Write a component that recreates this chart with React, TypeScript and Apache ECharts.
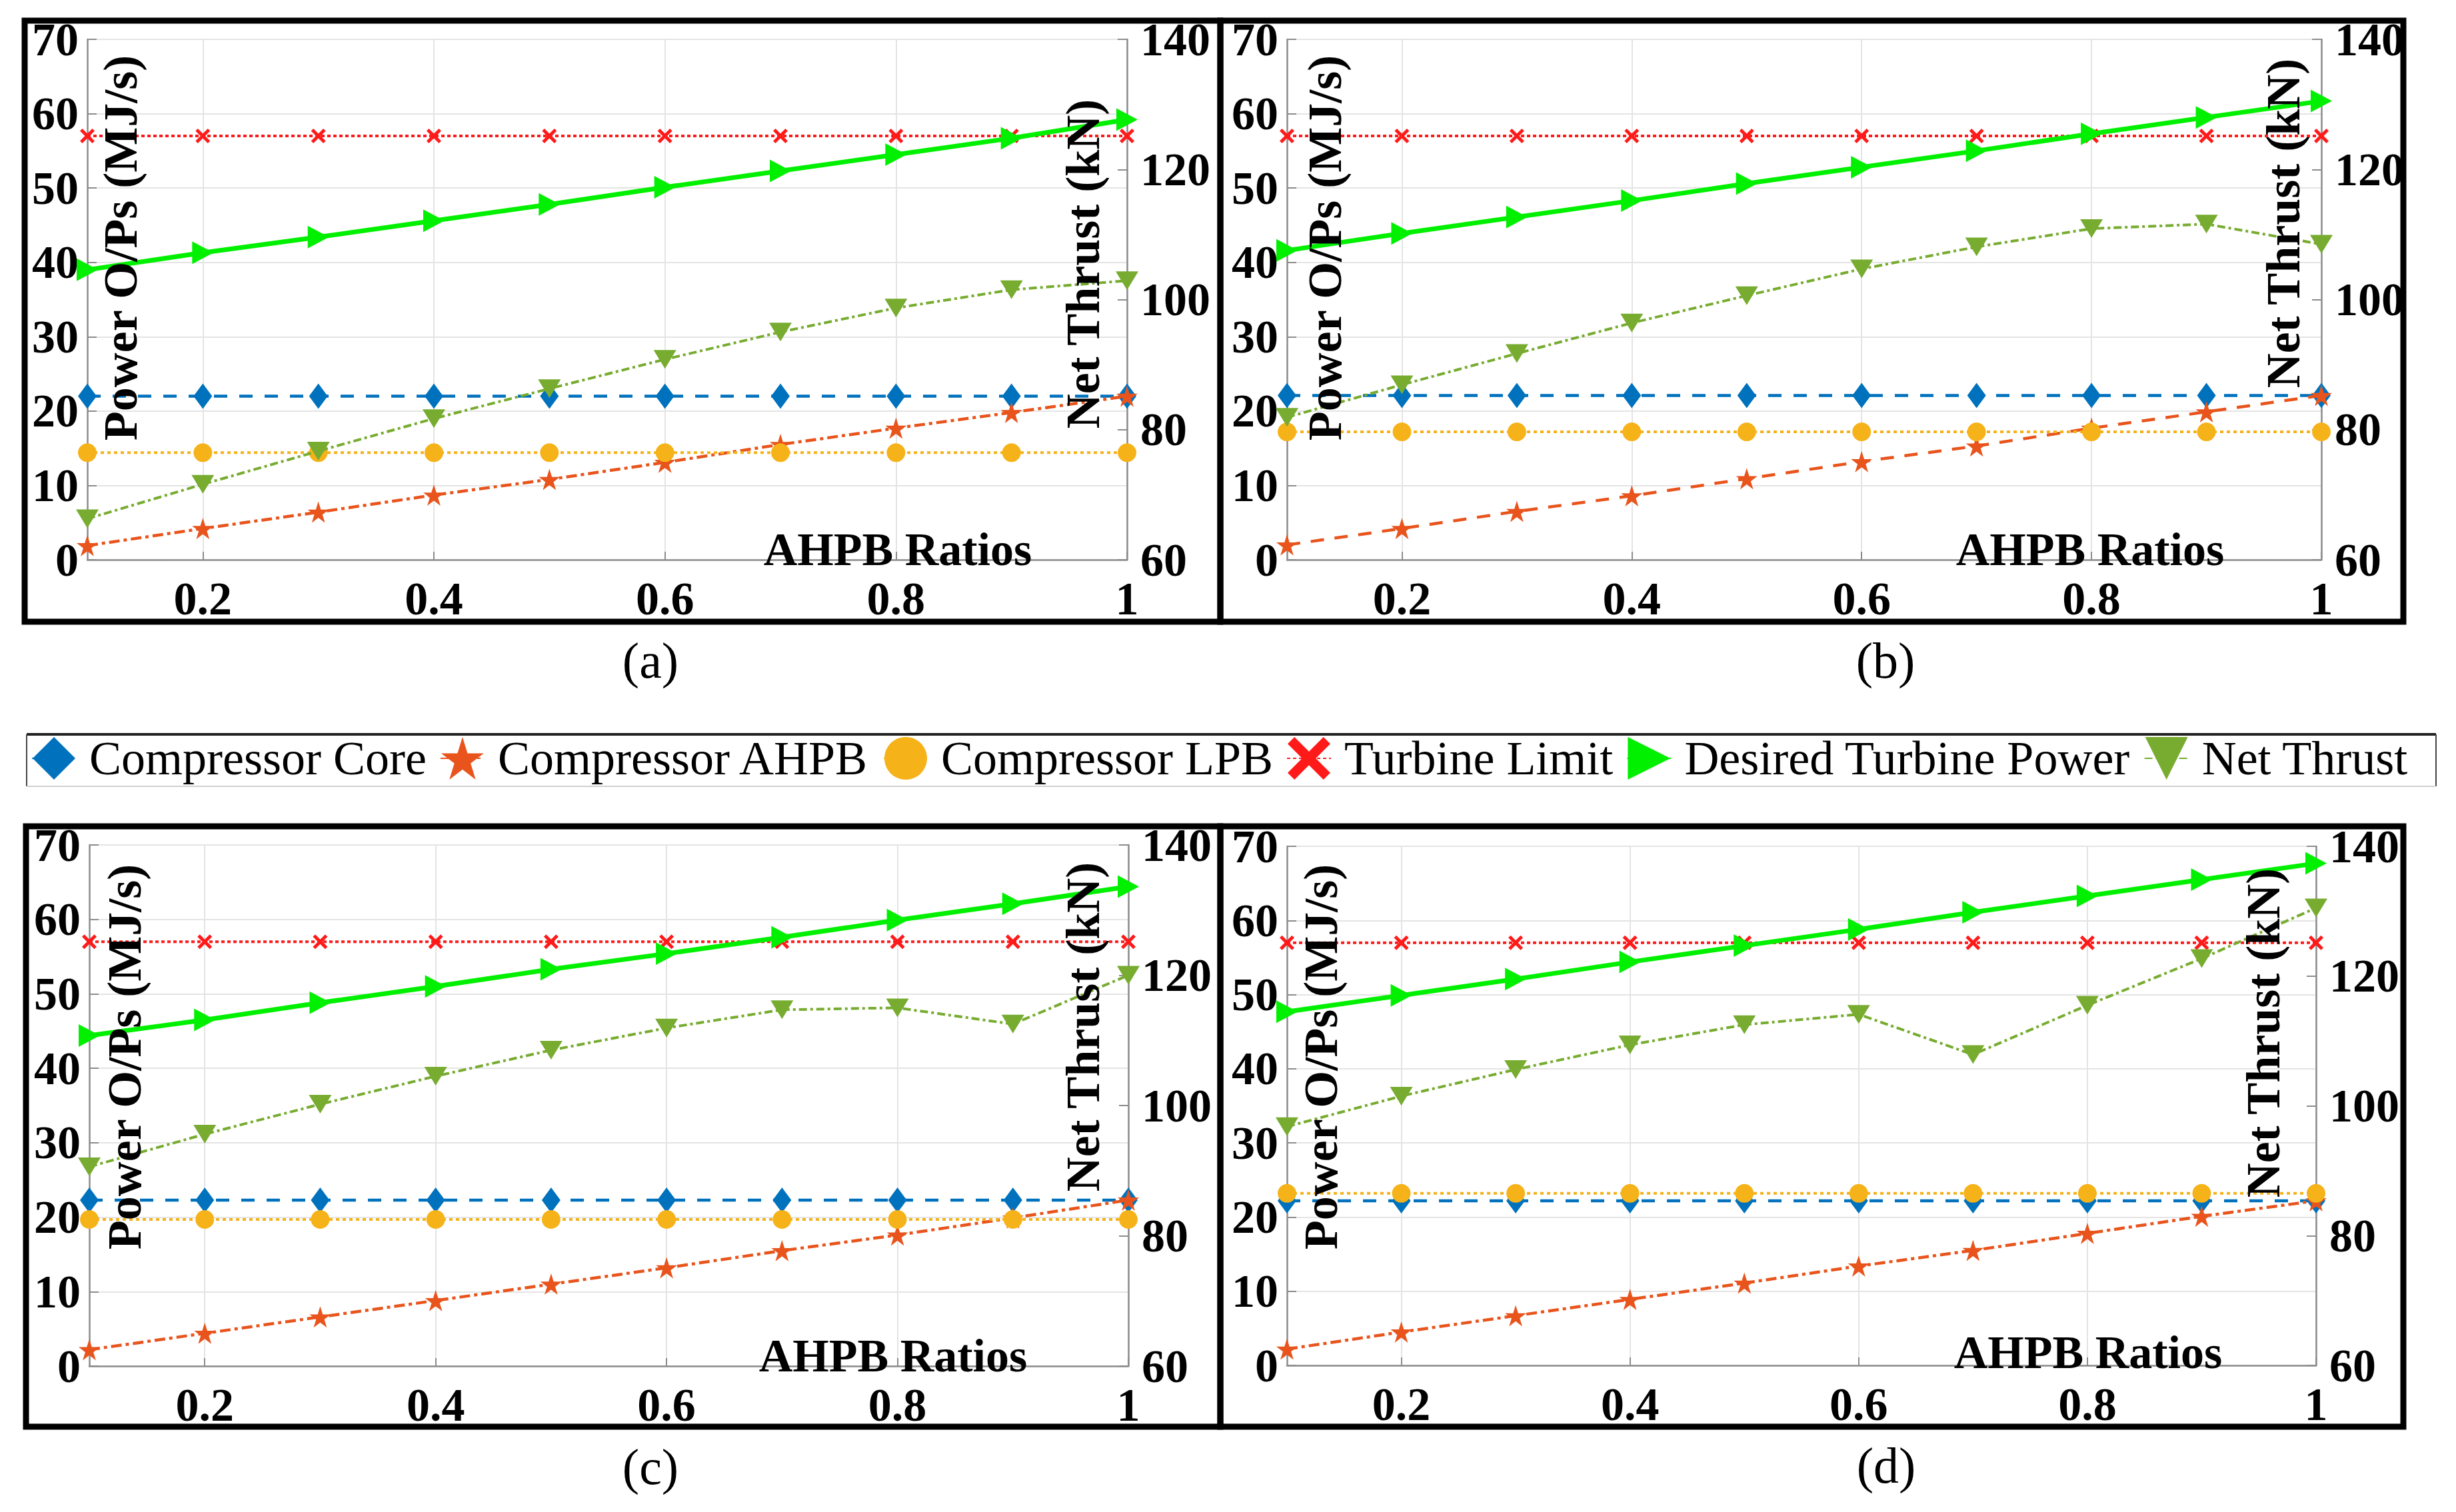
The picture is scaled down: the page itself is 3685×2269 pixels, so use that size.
import React, { useEffect, useRef } from "react";
import * as echarts from "echarts";

// ---------- data ----------
const ratios = [0.1, 0.2, 0.3, 0.4, 0.5, 0.6, 0.7, 0.8, 0.9, 1.0];
const xTickValues = [0.2, 0.4, 0.6, 0.8, 1];
const seriesNames = [
  "Compressor Core",
  "Compressor AHPB",
  "Compressor LPB",
  "Turbine Limit",
  "Desired Turbine Power",
  "Net Thrust",
];
const panelLabels = ["(a)", "(b)", "(c)", "(d)"];
const leftAxisName = "Power O/Ps (MJ/s)";
const rightAxisName = "Net Thrust (kN)";
const xAxisName = "AHPB Ratios";

// panel (a)
const coreA = [22, 22, 22, 22, 22, 22, 22, 22, 22, 22];
const ahpbA = [1.9, 4.2, 6.4, 8.7, 10.8, 13.1, 15.5, 17.7, 19.8, 22.0];
const lpbA = [14.4, 14.4, 14.4, 14.4, 14.4, 14.4, 14.4, 14.4, 14.4, 14.4];
const turbA = [57, 57, 57, 57, 57, 57, 57, 57, 57, 57];
const desA = [39.0, 41.3, 43.4, 45.6, 47.8, 50.1, 52.3, 54.5, 56.7, 59.2];
const thrA = [66.3, 71.6, 76.7, 81.7, 86.3, 90.8, 95.0, 98.7, 101.5, 102.9];

// panel (b)
const coreB = [22.1, 22.1, 22.1, 22.1, 22.1, 22.1, 22.1, 22.1, 22.1, 22.1];
const ahpbB = [2.0, 4.2, 6.5, 8.6, 10.9, 13.2, 15.3, 17.7, 19.9, 22.1];
const lpbB = [17.2, 17.2, 17.2, 17.2, 17.2, 17.2, 17.2, 17.2, 17.2, 17.2];
const turbB = [57, 57, 57, 57, 57, 57, 57, 57, 57, 57];
const desB = [41.6, 43.9, 46.1, 48.3, 50.6, 52.8, 55.0, 57.3, 59.5, 61.7];
const thrB = [81.9, 86.9, 91.7, 96.4, 100.6, 104.7, 108.1, 110.9, 111.6, 108.5];

// panel (c)
const coreC = [22.3, 22.3, 22.3, 22.3, 22.3, 22.3, 22.3, 22.3, 22.3, 22.3];
const ahpbC = [2.2, 4.4, 6.6, 8.8, 11.0, 13.2, 15.5, 17.6, 19.9, 22.3];
const lpbC = [19.7, 19.7, 19.7, 19.7, 19.7, 19.7, 19.7, 19.7, 19.7, 19.7];
const turbC = [57, 57, 57, 57, 57, 57, 57, 57, 57, 57];
const desC = [44.4, 46.5, 48.8, 51.0, 53.3, 55.4, 57.6, 59.9, 62.1, 64.4];
const thrC = [90.6, 95.6, 100.2, 104.5, 108.5, 111.9, 114.7, 115.0, 112.5, 120.0];

// panel (d)
const coreD = [22.2, 22.2, 22.2, 22.2, 22.2, 22.2, 22.2, 22.2, 22.2, 22.2];
const ahpbD = [2.2, 4.5, 6.7, 8.9, 11.1, 13.4, 15.5, 17.8, 20.1, 22.2];
const lpbD = [23.2, 23.2, 23.2, 23.2, 23.2, 23.2, 23.2, 23.2, 23.2, 23.2];
const turbD = [57, 57, 57, 57, 57, 57, 57, 57, 57, 57];
const desD = [47.7, 49.9, 52.1, 54.4, 56.6, 58.8, 61.1, 63.3, 65.5, 67.7];
const thrD = [96.8, 101.5, 105.6, 109.4, 112.5, 114.1, 107.9, 115.5, 122.7, 130.5];

const panelData = [
  [coreA, ahpbA, lpbA, turbA, desA, thrA],
  [coreB, ahpbB, lpbB, turbB, desB, thrB],
  [coreC, ahpbC, lpbC, turbC, desC, thrC],
  [coreD, ahpbD, lpbD, turbD, desD, thrD],
];

// ---------- layout / style ----------
const SERIF = "Liberation Serif, DejaVu Serif, serif";
const W = 3685;
const H = 2269;

const grids = [
  { left: 131, top: 59, width: 1560, height: 781 },
  { left: 1931, top: 59, width: 1552, height: 781 },
  { left: 134, top: 1268, width: 1559, height: 782 },
  { left: 1931, top: 1270, width: 1544, height: 779 },
];
const boxes = [
  { x: 37, y: 31, w: 1794, h: 902 },
  { x: 1831, y: 31, w: 1775, h: 902 },
  { x: 39, y: 1240, w: 1792, h: 901 },
  { x: 1831, y: 1240, w: 1775, h: 901 },
];
const leftNamePos = [
  [181, 372],
  [1988, 372],
  [187, 1586],
  [1982, 1586],
];
const rightNamePos = [
  [1625, 396],
  [3426, 335],
  [1625, 1541],
  [3396, 1550],
];
const xNamePos = [
  [1347, 824],
  [3136, 824],
  [1340, 2034],
  [3133, 2029],
];
const captionPos = [
  [976, 991],
  [2829, 991],
  [976, 2201],
  [2830, 2199],
];

const STAR =
  "path://M50,0 L61.2,34.5 L97.6,34.5 L68.2,55.9 L79.4,90.5 L50,69.1 L20.6,90.5 L31.8,55.9 L2.4,34.5 L38.8,34.5 Z";
const XMARK =
  "path://M0,16 L16,0 L50,34 L84,0 L100,16 L66,50 L100,84 L84,100 L50,66 L16,100 L0,84 L34,50 Z";
const TRI_RIGHT = "path://M0,0 L100,50 L0,100 Z";
const TRI_DOWN = "path://M0,0 L100,0 L50,100 Z";

const styles = [
  { color: "#0072BD", width: 4.5, type: [20, 18], symbol: "diamond", size: [28, 38] },
  { color: "#E8541C", width: 4.5, type: [16, 6, 5, 6], symbol: STAR, size: [32, 32] },
  { color: "#F6B219", width: 4, type: [5, 5], symbol: "circle", size: 28 },
  { color: "#FF1A1A", width: 4, type: [5, 4], symbol: XMARK, size: [22, 22] },
  { color: "#00F000", width: 7, type: "solid", symbol: TRI_RIGHT, size: [32, 34] },
  { color: "#77AC30", width: 4, type: [12, 5, 4, 5], symbol: TRI_DOWN, size: [34, 28] },
];

const AXIS_GREY = "#8c8c8c";
const GRID_GREY = "#e4e4e4";

function buildOption() {
  const grid: any[] = [];
  const xAxis: any[] = [];
  const yAxis: any[] = [];
  const series: any[] = [];
  const graphic: any[] = [];

  const labelStyle = {
    fontFamily: SERIF,
    fontWeight: "bold",
    fontSize: 70,
    color: "#000",
  };

  grids.forEach((g, i) => {
    grid.push({ ...g, containLabel: false, outerBoundsMode: "none" });
    xAxis.push({
      type: "value",
      gridIndex: i,
      min: 0.1,
      max: 1,
      axisLine: { show: true, onZero: false, lineStyle: { color: AXIS_GREY, width: 2.5 } },
      axisTick: {
        show: true,
        inside: true,
        length: 12,
        customValues: xTickValues,
        lineStyle: { color: AXIS_GREY, width: 2 },
      },
      axisLabel: { ...labelStyle, customValues: xTickValues, margin: 23 },
      splitLine: { show: true, lineStyle: { color: GRID_GREY, width: 2 } },
    });
    yAxis.push({
      type: "value",
      gridIndex: i,
      position: "left",
      min: 0,
      max: 70,
      interval: 10,
      axisLine: { show: true, lineStyle: { color: AXIS_GREY, width: 2.5 } },
      axisTick: { show: true, inside: true, length: 14, lineStyle: { color: AXIS_GREY, width: 2 } },
      axisLabel: { ...labelStyle, margin: 13 },
      splitLine: { show: true, lineStyle: { color: GRID_GREY, width: 2 } },
    });
    yAxis.push({
      type: "value",
      gridIndex: i,
      position: "right",
      min: 60,
      max: 140,
      interval: 20,
      axisLine: { show: true, lineStyle: { color: AXIS_GREY, width: 2.5 } },
      axisTick: { show: true, inside: true, length: 14, lineStyle: { color: AXIS_GREY, width: 2 } },
      axisLabel: { ...labelStyle, margin: 20 },
      splitLine: { show: false },
    });

    panelData[i].forEach((vals, k) => {
      const st = styles[k];
      const lineType = i === 1 && k === 1 ? [20, 16] : st.type;
      series.push({
        type: "line",
        name: seriesNames[k],
        xAxisIndex: i,
        yAxisIndex: k === 5 ? 2 * i + 1 : 2 * i,
        data: ratios.map((r, j) => [r, vals[j]]),
        symbol: st.symbol,
        symbolSize: st.size,
        showAllSymbol: true,
        itemStyle: { color: st.color, borderWidth: 0 },
        lineStyle: { color: st.color, width: st.width, type: lineType },
        z: 2 + k,
        silent: true,
      });
    });

    const b = boxes[i];
    graphic.push({
      type: "rect",
      shape: { x: b.x, y: b.y, width: b.w, height: b.h },
      style: { fill: "none", stroke: "#000", lineWidth: 9 },
      z: 50,
      silent: true,
    });
    const textFont = (weight: string, size: number) => `${weight} ${size}px ${SERIF}`;
    graphic.push({
      type: "text",
      x: leftNamePos[i][0],
      y: leftNamePos[i][1],
      rotation: Math.PI / 2,
      z: 100,
      style: {
        text: leftAxisName,
        font: textFont("bold", 72),
        fill: "#000",
        textAlign: "center",
        textVerticalAlign: "middle",
      },
    });
    graphic.push({
      type: "text",
      x: rightNamePos[i][0],
      y: rightNamePos[i][1],
      rotation: Math.PI / 2,
      z: 100,
      style: {
        text: rightAxisName,
        font: textFont("bold", 72),
        fill: "#000",
        textAlign: "center",
        textVerticalAlign: "middle",
      },
    });
    graphic.push({
      type: "text",
      x: xNamePos[i][0],
      y: xNamePos[i][1],
      z: 100,
      style: {
        text: xAxisName,
        font: textFont("bold", 70),
        fill: "#000",
        textAlign: "center",
        textVerticalAlign: "middle",
      },
    });
    graphic.push({
      type: "text",
      x: captionPos[i][0],
      y: captionPos[i][1],
      z: 100,
      style: {
        text: panelLabels[i],
        font: textFont("normal", 76),
        fill: "#000",
        textAlign: "center",
        textVerticalAlign: "middle",
      },
    });
  });

  // legend frame
  graphic.push({
    type: "line",
    shape: { x1: 40, y1: 1102, x2: 3655, y2: 1102 },
    style: { stroke: "#222", lineWidth: 4 },
    z: 50,
  });
  graphic.push({
    type: "line",
    shape: { x1: 40, y1: 1102, x2: 40, y2: 1180 },
    style: { stroke: "#444", lineWidth: 2 },
    z: 50,
  });
  graphic.push({
    type: "line",
    shape: { x1: 3655, y1: 1102, x2: 3655, y2: 1180 },
    style: { stroke: "#444", lineWidth: 2 },
    z: 50,
  });
  graphic.push({
    type: "line",
    shape: { x1: 40, y1: 1180, x2: 3655, y2: 1180 },
    style: { stroke: "#d0d0d0", lineWidth: 2 },
    z: 50,
  });

  return {
    animation: false,
    backgroundColor: "#ffffff",
    textStyle: { fontFamily: SERIF },
    grid,
    xAxis,
    yAxis,
    series,
    graphic,
    legend: {
      show: true,
      data: seriesNames,
      orient: "horizontal",
      left: 42,
      top: 1097,
      itemWidth: 66,
      itemHeight: 80,
      itemGap: 20,
      selectedMode: false,
      textStyle: {
        fontFamily: SERIF,
        fontSize: 72,
        color: "#000",
        padding: [0, 0, 0, 15],
      },
    },
  };
}

export default function App() {
  const ref = useRef<HTMLDivElement>(null);
  useEffect(() => {
    document.body.style.margin = "0";
    if (!ref.current) return;
    const chart = echarts.init(ref.current, undefined, { renderer: "svg", width: W, height: H });
    chart.setOption(buildOption() as any);
    return () => {
      chart.dispose();
    };
  }, []);
  return <div ref={ref} style={{ width: W, height: H, background: "#fff" }} />;
}
